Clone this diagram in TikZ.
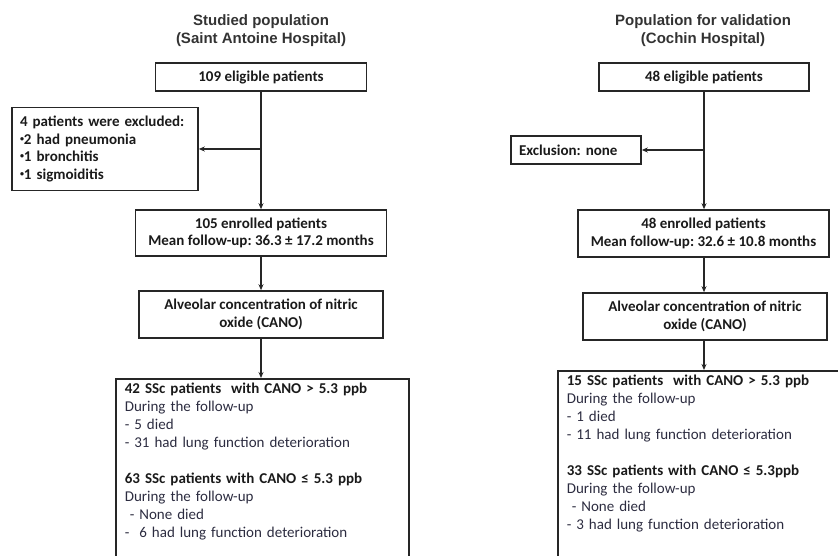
\documentclass[tikz,border=0pt]{standalone}
\usepackage{fontspec}
\setmainfont{Carlito}
\newfontfamily\headfont{Liberation Sans}
\usetikzlibrary{arrows.meta}
\frenchspacing

\definecolor{boxline}{HTML}{262626}
\definecolor{boldink}{HTML}{1A1A1A}
\definecolor{bodyink}{HTML}{2C2C40}
\definecolor{headink}{HTML}{333333}

\newcommand{\smallbul}{\raisebox{3pt}{\fontsize{8}{8}\selectfont•}}

\tikzset{
    title/.style={align=center, text=headink, font=\headfont\bfseries\fontsize{15}{18}\selectfont},
    box/.style={draw=boxline, line width=1.6pt, inner sep=0pt, align=center,
        text=boldink, font=\bfseries\fontsize{15}{17.5}\selectfont},
    listbox/.style={box, align=left, inner xsep=8pt},
    resbox/.style={draw=boxline, line width=1.6pt, anchor=north west, align=left,
        inner xsep=9pt, inner ysep=4pt, text=bodyink, font=\fontsize{15}{18}\selectfont},
    link/.style={draw=boxline, line width=1.5pt, -{Stealth[length=6pt,width=5pt]}}
}

\begin{document}
\begin{tikzpicture}[x=1pt, y=-1pt]

    %% Background
    \useasboundingbox (0,0) rectangle (838,556);
    \clip (0,0) rectangle (838,556);

    %% Titles
    \node[title] (titleA) at (261,31) {Studied population\\(Saint Antoine Hospital)};
    \node[title] (titleB) at (703,31) {Population for validation\\(Cochin Hospital)};

    %% Saint Antoine
    \node[box, minimum width=211pt, minimum height=28pt] (eligA) at (261,77) {109 eligible patients};
    \node[listbox, text width=170pt, minimum height=83pt] (exclA) at (105,149)
        {4 patients were excluded:\\ \smallbul2 had pneumonia\\ \smallbul1 bronchitis\\ \smallbul1 sigmoiditis};
    \node[box, minimum width=251pt, minimum height=46pt] (enrA) at (261,233)
        {105 enrolled patients\\ Mean follow-up: 36.3 ± 17.2 months};
    \node[box, minimum width=244pt, minimum height=47pt] (canoA) at (261,314.5)
        {Alveolar concentration of nitric\\ oxide (CANO)};
    \node[resbox, text width=275pt] (resA) at (115,378)
        {\textcolor{boldink}{\bfseries 42 SSc patients\ \ with CANO > 5.3 ppb}\\
         During the follow-up\\
         - 5 died\\
         - 31 had lung function deterioration\\[18pt]
         \textcolor{boldink}{\bfseries 63 SSc patients with CANO ≤ 5.3 ppb}\\
         During the follow-up\\
         \ - None died\\
         -\ \ 6 had lung function deterioration\\
         \rule{0pt}{40pt}};

    % Connectors
    \coordinate (jA) at (eligA.south |- exclA.east);
    \draw[link] (eligA.south) -- (eligA.south |- enrA.north);
    \draw[link] (jA) -- (exclA.east);
    \draw[link] (enrA.south) -- (enrA.south |- canoA.north);
    \draw[link] (canoA.south) -- (canoA.south |- resA.north);

    %% Cochin
    \node[box, minimum width=210pt, minimum height=28pt] (eligB) at (704,77) {48 eligible patients};
    \node[listbox, text width=114pt, minimum height=28pt] (exclB) at (576,150) {Exclusion: none};
    \node[box, minimum width=251pt, minimum height=47pt] (enrB) at (703.5,233.5)
        {48 enrolled patients\\ Mean follow-up: 32.6 ± 10.8 months};
    \node[box, minimum width=244pt, minimum height=47pt] (canoB) at (705,316.5)
        {Alveolar concentration of nitric\\ oxide (CANO)};
    \node[resbox, text width=290pt] (resB) at (557,370)
        {\textcolor{boldink}{\bfseries 15 SSc patients\ \ with CANO > 5.3 ppb}\\
         During the follow-up\\
         - 1 died\\
         - 11 had lung function deterioration\\[18pt]
         \textcolor{boldink}{\bfseries 33 SSc patients with CANO ≤ 5.3ppb}\\
         During the follow-up\\
         \ - None died\\
         - 3 had lung function deterioration\\
         \rule{0pt}{40pt}};

    % Connectors
    \coordinate (jB) at (eligB.south |- exclB.east);
    \draw[link] (eligB.south) -- (eligB.south |- enrB.north);
    \draw[link] (jB) -- (exclB.east);
    \draw[link] (eligB.south |- enrB.south) -- (eligB.south |- canoB.north);
    \draw[link] (eligB.south |- canoB.south) -- (eligB.south |- resB.north);

\end{tikzpicture}
\end{document}
